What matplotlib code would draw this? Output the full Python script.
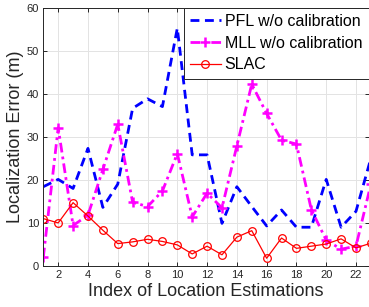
import matplotlib
matplotlib.use("Agg")
import matplotlib.pyplot as plt
import numpy as np

plt.rcParams['font.family'] = ['Liberation Sans', 'DejaVu Sans']

idx = list(range(1, 24))
pfl = [18.4, 20.1, 18.0, 27.3, 13.6, 19.0, 36.6, 38.8, 37.0, 55.2, 25.8, 25.8,
       9.9, 18.4, 13.8, 9.3, 13.0, 9.0, 9.0, 20.1, 9.0, 12.7, 25.0]
mll = [2.0, 32.1, 9.4, 11.8, 22.4, 32.9, 14.8, 13.8, 17.4, 26.1, 11.4, 16.9,
       13.5, 27.9, 42.2, 35.4, 29.2, 28.3, 13.1, 6.0, 3.9, 4.6, 19.0]
slac = [11.0, 10.0, 14.7, 11.6, 8.3, 5.2, 5.6, 6.2, 5.7, 4.9, 2.8, 4.6,
        2.6, 6.7, 8.2, 1.8, 6.5, 4.1, 4.6, 5.1, 6.3, 4.2, 5.3]
labels = ["PFL w/o calibration", "MLL w/o calibration", "SLAC"]
xticks = list(range(2, 24, 2))
yticks = list(range(0, 61, 10))

fig = plt.figure(figsize=(3.69, 3.07), dpi=100)
ax = fig.add_axes([43.3/369, 1-266/307, (368.5-43.3)/369, (266-7.5)/307])

ax.plot(idx, pfl, color=(0, 0, 1), linestyle=(0, (3.2, 2.0)), linewidth=2.0, label=labels[0])
ax.plot(idx, mll, color=(1, 0, 1), linestyle=(0, (3.5, 1.5, 1, 1.5)), linewidth=2.0,
        marker='+', markersize=7.5, markeredgewidth=1.8, label=labels[1])
ax.plot(idx, slac, color=(1, 0, 0), linestyle='-', linewidth=0.9,
        marker='o', markersize=5.5, markerfacecolor='none', markeredgewidth=0.9, label=labels[2])

ax.set_xlim(1, 22.84)
ax.set_ylim(0, 60)
ax.set_xticks(xticks)
ax.set_yticks(yticks)
ax.grid(True, color='#e3e3e3', linewidth=0.7)
ax.set_axisbelow(True)
ax.tick_params(direction='in', top=True, right=True, length=3, width=0.7,
               labelsize=8, colors='#262626', pad=3)
for s in ax.spines.values():
    s.set_color('#262626')
    s.set_linewidth(0.7)

ax.set_xlabel("Index of Location Estimations", fontsize=13, color='#262626', labelpad=2)
ax.set_ylabel("Localization Error (m)", fontsize=13, color='#262626', labelpad=2)

leg = ax.legend(loc='upper right', fontsize=11.5, frameon=True, fancybox=False,
                edgecolor='#262626', framealpha=1, borderpad=0.4, labelspacing=0.42,
                handlelength=1.9, handletextpad=0.25, borderaxespad=0.0)
leg.get_frame().set_linewidth(0.7)

fig.savefig("out.png", dpi=100)
